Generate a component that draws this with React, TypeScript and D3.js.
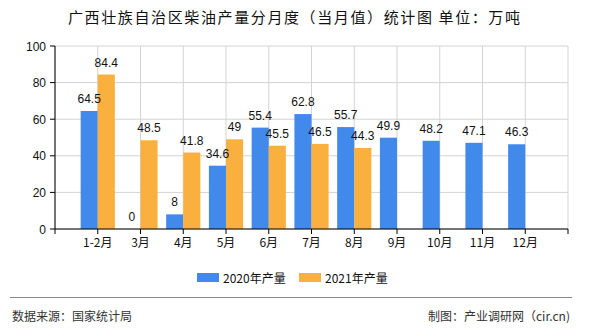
import React from "react";
import * as d3 from "d3";

const categories = ["1-2月", "3月", "4月", "5月", "6月", "7月", "8月", "9月", "10月", "11月", "12月"];
const series2020 = [64.5, 0, 8, 34.6, 55.4, 62.8, 55.7, 49.9, 48.2, 47.1, 46.3];
const series2021: (number | null)[] = [84.4, 48.5, 41.8, 49, 45.5, 46.5, 44.3, null, null, null, null];
const yTicks = [0, 20, 40, 60, 80, 100];
const seriesNames = ["2020年产量", "2021年产量"];
const colors = ["#418AEC", "#FAB03F"];

const W = 590, H = 330;
const left = 55, right = 568, top = 46, bottom = 229;

export default function App() {
  const x = d3.scalePoint<string>().domain(categories).range([left, right]).padding(1);
  const y = d3.scaleLinear().domain([0, 100]).range([bottom, top]);
  const bw = x.step() * 0.4;
  const labelFont = "'Liberation Sans', Arial, sans-serif";
  const cjk = "'Noto Sans CJK SC', sans-serif";
  const fmt = (v: number) => String(v);
  const xGrid = [left, ...categories.map((c) => x(c) as number), right];

  return (
    <svg width={W} height={H} style={{ position: "absolute", left: 0, top: 0, background: "#fff" }}>
      <text x={68} y={23} fontFamily={cjk} fontSize={15} fill="#111" textLength={452} lengthAdjust="spacing">
        广西壮族自治区柴油产量分月度（当月值）统计图 单位：万吨
      </text>
      {/* grid */}
      {yTicks.map((t) => (
        <line key={"gy" + t} x1={left} x2={right} y1={y(t)} y2={y(t)} stroke="#d3d3d3" strokeWidth={1} />
      ))}
      {xGrid.map((gx, i) => (
        <line key={"gx" + i} x1={gx} x2={gx} y1={top} y2={bottom} stroke="#d3d3d3" strokeWidth={1} />
      ))}
      {/* bars */}
      {categories.map((c, i) => {
        const cx = x(c) as number;
        const v1 = series2020[i];
        const v2 = series2021[i];
        return (
          <g key={c}>
            <rect x={cx - bw} y={y(v1)} width={bw} height={bottom - y(v1)} fill={colors[0]} />
            {v2 != null && <rect x={cx} y={y(v2)} width={bw} height={bottom - y(v2)} fill={colors[1]} />}
          </g>
        );
      })}
      {/* labels */}
      {categories.map((c, i) => {
        const cx = x(c) as number;
        const v1 = series2020[i];
        const v2 = series2021[i];
        return (
          <g key={"l" + c} fontFamily={labelFont} fontSize={12} fill="#111" textAnchor="middle">
            <text x={cx - bw / 2} y={y(v1) - 8}>{fmt(v1)}</text>
            {v2 != null && <text x={cx + bw / 2} y={y(v2) - 8}>{fmt(v2)}</text>}
          </g>
        );
      })}
      {/* axes */}
      <line x1={left} x2={left} y1={top} y2={bottom} stroke="#000" strokeWidth={1} />
      <line x1={left} x2={right} y1={bottom} y2={bottom} stroke="#000" strokeWidth={1} />
      {yTicks.map((t) => (
        <g key={"yt" + t}>
          <line x1={left - 5} x2={left} y1={y(t)} y2={y(t)} stroke="#000" />
          <text x={46} y={y(t) + 4.5} textAnchor="end" fontFamily={labelFont} fontSize={12} fill="#111">{t}</text>
        </g>
      ))}
      {xGrid.map((gx, i) => (
        <line key={"xt" + i} x1={gx} x2={gx} y1={bottom} y2={bottom + 5} stroke="#000" />
      ))}
      {categories.map((c) => (
        <text key={"xl" + c} x={x(c) as number} y={247} textAnchor="middle" fontFamily={cjk} fontSize={12} fill="#111">{c}</text>
      ))}
      {/* legend */}
      <rect x={197} y={273} width={22} height={9} fill={colors[0]} />
      <text x={223} y={283} fontFamily={cjk} fontSize={12} fill="#111">{seriesNames[0]}</text>
      <rect x={299} y={273} width={22} height={9} fill={colors[1]} />
      <text x={325} y={283} fontFamily={cjk} fontSize={12} fill="#111">{seriesNames[1]}</text>
      {/* footer */}
      <line x1={10} x2={572} y1={297.5} y2={297.5} stroke="#888" strokeWidth={1.2} />
      <text x={12} y={321} fontFamily={cjk} fontSize={12} fill="#333">数据来源：国家统计局</text>
      <text x={570} y={321} textAnchor="end" fontFamily={cjk} fontSize={12} fill="#333">制图：产业调研网（cir.cn)</text>
    </svg>
  );
}
